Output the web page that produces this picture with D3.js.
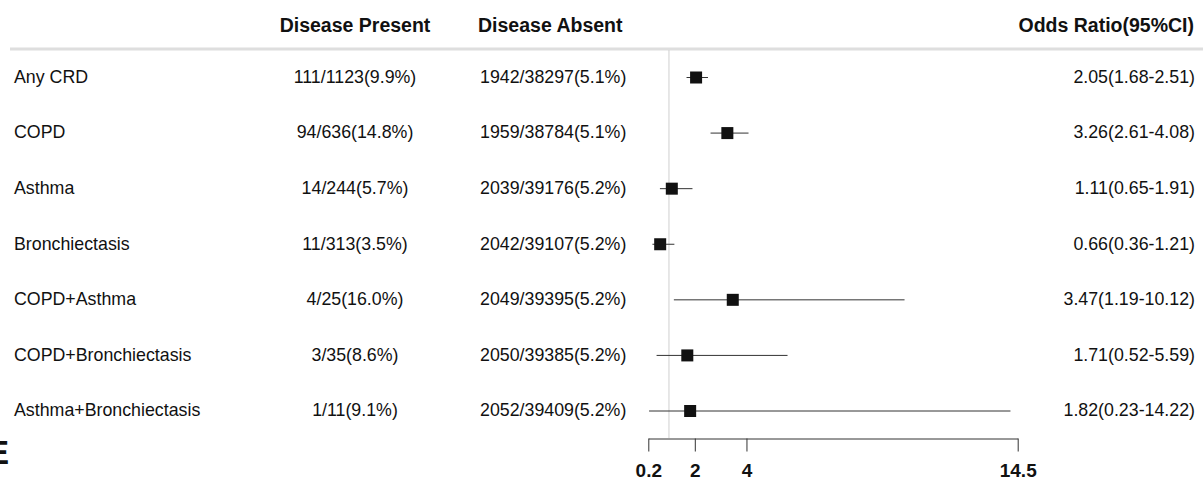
<!DOCTYPE html>
<html>
<head>
<meta charset="utf-8">
<script src="https://cdn.jsdelivr.net/npm/d3@7"></script>
<style>
  html, body { margin: 0; padding: 0; background: #fff; }
  svg { display: block; font-family: Arial, "Liberation Sans", Helvetica, sans-serif; }
</style>
</head>
<body>
<svg id="chart" width="1203" height="483"></svg>
<script>
// Forest plot: disease subgroups with odds ratios and 95% confidence intervals
const categories = ["Any CRD", "COPD", "Asthma", "Bronchiectasis", "COPD+Asthma", "COPD+Bronchiectasis", "Asthma+Bronchiectasis"];
const presentText = ["111/1123(9.9%)", "94/636(14.8%)", "14/244(5.7%)", "11/313(3.5%)", "4/25(16.0%)", "3/35(8.6%)", "1/11(9.1%)"];
const absentText = ["1942/38297(5.1%)", "1959/38784(5.1%)", "2039/39176(5.2%)", "2042/39107(5.2%)", "2049/39395(5.2%)", "2050/39385(5.2%)", "2052/39409(5.2%)"];
const oddsRatio = [2.05, 3.26, 1.11, 0.66, 3.47, 1.71, 1.82];
const ciLow = [1.68, 2.61, 0.65, 0.36, 1.19, 0.52, 0.23];
const ciHigh = [2.51, 4.08, 1.91, 1.21, 10.12, 5.59, 14.22];
const headers = ["Disease Present", "Disease Absent", "Odds Ratio(95%CI)"];
const axisTicks = [0.2, 2, 4, 14.5];
const refValue = 1;

const rows = categories.map((c, i) => ({
  name: c, present: presentText[i], absent: absentText[i],
  or: oddsRatio[i], lo: ciLow[i], hi: ciHigh[i]
}));

const svg = d3.select("#chart");

const x = d3.scaleLinear().domain([0.2, 14.5]).range([648.3, 1017.7]);
const y = d3.scalePoint().domain(categories).range([77, 410.5]);

const fmt = d3.format(".2f");

// Column headers
const headG = svg.append("g").attr("font-weight", "bold").attr("font-size", 19.5).attr("fill", "#111");
headG.append("text").attr("x", 355).attr("y", 32).attr("text-anchor", "middle").text(headers[0]);
headG.append("text").attr("x", 478).attr("y", 32).attr("text-anchor", "start").text(headers[1]);
headG.append("text").attr("x", 1194).attr("y", 32).attr("text-anchor", "end").text(headers[2]);

// Header separator
svg.append("line")
  .attr("x1", 10).attr("x2", 1203).attr("y1", 49).attr("y2", 49)
  .attr("stroke", "#dedede").attr("stroke-width", 3);

// Reference line at OR = 1
svg.append("line")
  .attr("x1", x(refValue)).attr("x2", x(refValue))
  .attr("y1", 50).attr("y2", 438)
  .attr("stroke", "#cfcfcf").attr("stroke-width", 1);

// Table text
const rowG = svg.append("g").attr("font-size", 17.8).attr("fill", "#111");
const r = rowG.selectAll("g.row").data(rows).join("g").attr("class", "row")
  .attr("transform", d => `translate(0,${y(d.name)})`);
r.append("text").attr("x", 14).attr("dy", "0.33em").text(d => d.name);
r.append("text").attr("x", 355).attr("dy", "0.33em").attr("text-anchor", "middle").text(d => d.present);
r.append("text").attr("x", 480).attr("dy", "0.33em").text(d => d.absent);
r.append("text").attr("x", 1195).attr("dy", "0.33em").attr("text-anchor", "end")
  .text(d => `${fmt(d.or)}(${fmt(d.lo)}-${fmt(d.hi)})`);

// Confidence interval lines and point estimates
const marks = svg.append("g");
marks.selectAll("line.ci").data(rows).join("line").attr("class", "ci")
  .attr("x1", d => x(d.lo)).attr("x2", d => x(d.hi))
  .attr("y1", d => y(d.name) + 0.5).attr("y2", d => y(d.name) + 0.5)
  .attr("stroke", "#333").attr("stroke-width", 1);
const sq = 12;
marks.selectAll("rect.pt").data(rows).join("rect").attr("class", "pt")
  .attr("x", d => x(d.or) - sq / 2).attr("y", d => y(d.name) - sq / 2 + 0.5)
  .attr("width", sq).attr("height", sq)
  .attr("fill", "#111");

// Axis with downward ticks
const axisY = 438.5;
const ax = svg.append("g").attr("transform", `translate(0,${axisY})`)
  .call(d3.axisBottom(x).tickValues(axisTicks).tickSizeInner(13).tickSizeOuter(0).tickFormat(d => d));
ax.select(".domain").attr("stroke", "#333");
ax.selectAll(".tick line").attr("stroke", "#333");
ax.selectAll(".tick text")
  .attr("y", 25).attr("dy", "0.71em")
  .attr("font-family", "Arial, 'Liberation Sans', sans-serif")
  .attr("font-size", 19).attr("font-weight", "bold").attr("fill", "#111");

// Panel letter
svg.append("text").attr("x", 9).attr("y", 464).attr("text-anchor", "end")
  .attr("font-size", 33.5).attr("font-weight", "bold").attr("fill", "#111").text("E");
</script>
</body>
</html>
